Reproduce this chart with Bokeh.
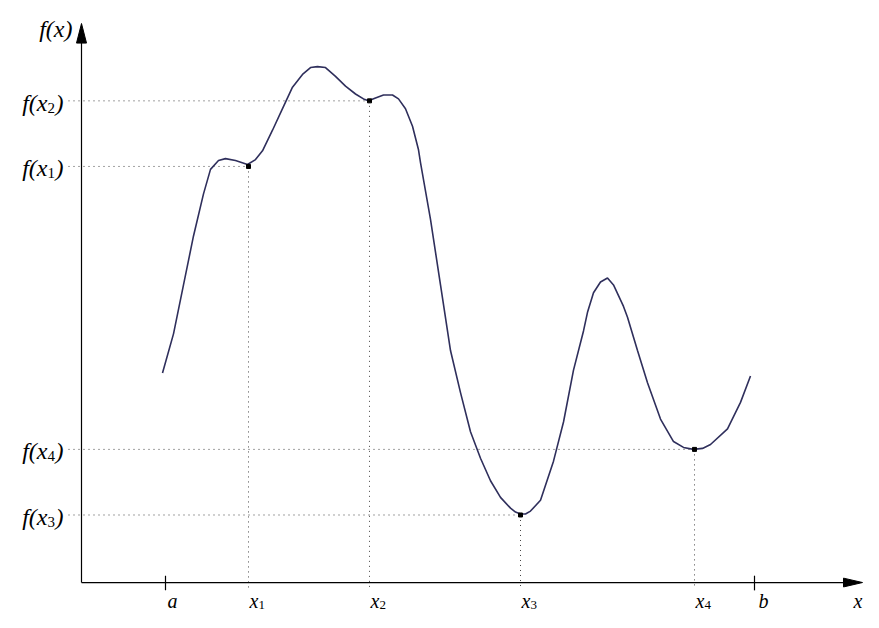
from bokeh.plotting import figure
from bokeh.models import Range1d
from bokeh.core.properties import value
from bokeh.embed import file_html
from bokeh.resources import INLINE

# ---- data (axis origin at 0,0; units ~ screen px) ----
curve_x = [81, 92, 102, 112, 122, 129, 137, 144, 154, 166, 174, 181, 191, 201, 211, 221, 229,
           236, 244, 254, 264, 274, 282, 287, 294, 302, 311, 317, 324, 331, 337, 339, 349,
           359, 369, 379, 389, 399, 409, 419, 429, 434, 439, 444, 449, 459, 472, 482, 492,
           502, 506, 512, 519, 526, 532, 542, 546, 556, 566, 579, 592, 602, 612, 621, 629,
           646, 659, 669]
curve_y = [214, 254, 304, 354, 397, 422, 431, 433, 431, 427, 432, 441, 462, 484, 506, 519, 526,
           527, 526, 517, 507, 499, 494, 492, 495, 498, 498, 494, 484, 466, 442, 429, 371,
           304, 237, 194, 154, 127, 104, 87, 76, 72, 70, 70, 73, 84, 124, 164, 217,
           257, 276, 296, 307, 311, 304, 282, 271, 237, 204, 167, 144, 138, 136, 137, 141,
           157, 184, 211]

pts_x = [167, 288, 439, 613]          # x1, x2, x3, x4
pts_y = [425, 492, 69, 136]           # f(x1) .. f(x4)
pts_names = ["1", "2", "3", "4"]
a_pos, b_pos = 84, 673

X_MIN, X_MAX = -81, 782
Y_MIN, Y_MAX = -30.6, 594.5
AXIS_X_END, AXIS_Y_END = 781, 571

p = figure(width=863, height=612, output_backend="svg", toolbar_location=None,
           x_range=Range1d(X_MIN, X_MAX), y_range=Range1d(Y_MIN, Y_MAX),
           min_border=0, x_axis_type=None, y_axis_type=None)
p.grid.visible = False
p.outline_line_color = None
p.background_fill_color = "white"

FONT = value("Liberation Serif")
DOT = dict(line_color="#444444", line_width=1, line_dash="1 4")

# dotted guide lines
for px, py in zip(pts_x, pts_y):
    p.segment(x0=-13, y0=py, x1=px, y1=py, **DOT)
    p.segment(x0=px, y0=py, x1=px, y1=-6, **DOT)

# axes
p.segment(x0=0, y0=0, x1=AXIS_X_END - 18, y1=0, line_color="black", line_width=1.2)
p.segment(x0=0, y0=0, x1=0, y1=AXIS_Y_END - 18, line_color="black", line_width=1.2)
p.patch([AXIS_X_END - 19, AXIS_X_END, AXIS_X_END - 19], [-4.5, 0, 4.5], color="black")
p.patch([-5, 0, 5], [AXIS_Y_END - 20, AXIS_Y_END, AXIS_Y_END - 20], color="black")

# ticks a, b
p.segment(x0=[a_pos, b_pos], y0=[7, 7], x1=[a_pos, b_pos], y1=[-8, -8],
          line_color="black", line_width=1.2)

# curve
p.line(curve_x, curve_y, line_color="#2f2f5c", line_width=1.6)
p.scatter(pts_x, pts_y, marker="square", size=4, color="black")

FS = "24px"
SUB = "15px"

def txt(x, y, s, align="left", size=FS, style="italic"):
    p.text(x=[x], y=[y], text=[s], text_font=FONT, text_font_size=size,
           text_font_style=style, text_align=align, text_baseline="alphabetic",
           text_color="black")

# y labels
txt(-9, 565, "f(x)", align="right")
for py, n in zip(pts_y, pts_names):
    yb = py - 2
    txt(-34, yb, "f(x", align="right")
    txt(-34, yb - 5, n, size=SUB, style="normal")
    txt(-26, yb, ")")

# x labels
LB = -18.4
BFS = "20px"
for px, n in zip(pts_x, pts_names):
    txt(px + 10, LB, "x", align="right", size=BFS)
    txt(px + 10, LB - 4.5, n, size="13px", style="normal")
txt(a_pos + 7, LB, "a", align="center", size=BFS)
txt(b_pos + 9, LB, "b", align="center", size=BFS)
txt(AXIS_X_END, LB, "x", align="right", size=BFS)

open("out.html", "w").write(file_html(p, INLINE))
